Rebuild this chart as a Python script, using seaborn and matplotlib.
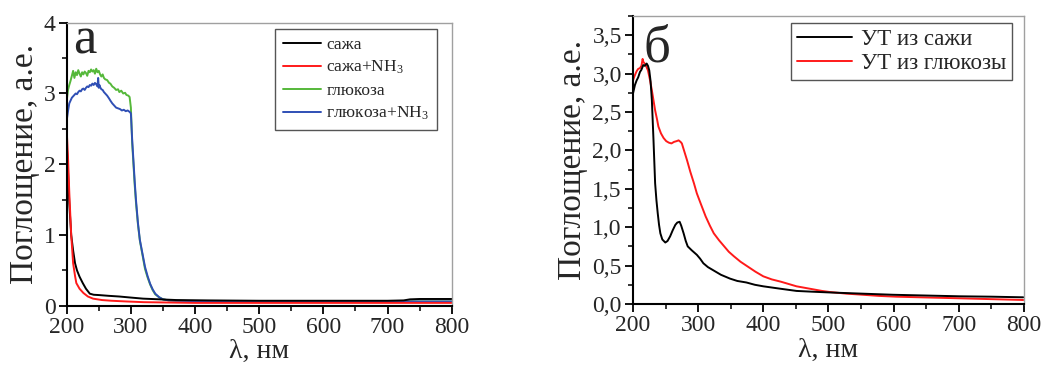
import numpy as np
import pandas as pd
import seaborn as sns
import matplotlib
matplotlib.use("Agg")
import matplotlib.pyplot as plt
from matplotlib.ticker import MultipleLocator, FixedLocator, FuncFormatter

# ---------------- data: panel a ----------------
wl_soot = [200, 202, 204, 207, 210, 213, 216, 220, 225, 230, 236, 242, 251, 265, 282, 300, 319, 345, 371, 420, 500,
           600, 700, 725, 735, 750, 780, 800]
soot = [2.30, 1.90, 1.45, 1.00, 0.78, 0.60, 0.50, 0.41, 0.32, 0.24, 0.17, 0.155, 0.15, 0.14, 0.13, 0.115, 0.10, 0.09,
        0.08, 0.075, 0.07, 0.07, 0.07, 0.075, 0.09, 0.095, 0.095, 0.095]

wl_soot_nh3 = [200, 202, 204, 207, 210, 213, 215, 220, 226, 233, 241, 255, 270, 293, 320, 360, 400, 500, 600, 700, 800]
soot_nh3 = [2.48, 2.10, 1.60, 1.00, 0.60, 0.42, 0.32, 0.24, 0.18, 0.13, 0.10, 0.08, 0.07, 0.06, 0.05, 0.045, 0.04,
            0.04, 0.04, 0.04, 0.04]

wl_gluc = [200, 202, 204, 206, 208, 210, 212, 214, 216, 218, 220, 222, 224, 226, 228, 230, 232, 234, 236, 238, 240,
           242, 244, 246, 248, 250, 252, 254, 256, 258, 260, 263, 266, 268, 271, 274, 277, 280, 282, 285, 288, 291,
           293, 296, 298, 300, 302, 304, 306, 308, 311, 314, 318, 322, 326, 330, 334, 338, 344, 350, 359, 370, 400,
           450, 500, 600, 700, 800]
gluc = [2.90, 3.05, 3.12, 3.18, 3.25, 3.32, 3.22, 3.30, 3.26, 3.33, 3.28, 3.24, 3.30, 3.27, 3.31, 3.29, 3.25, 3.32,
        3.30, 3.34, 3.31, 3.33, 3.28, 3.35, 3.30, 3.32, 3.27, 3.24, 3.27, 3.22, 3.20, 3.19, 3.15, 3.14, 3.10, 3.08,
        3.05, 3.06, 3.02, 3.04, 3.00, 3.01, 2.98, 2.97, 2.95, 2.80, 2.30, 2.00, 1.70, 1.45, 1.15, 0.92, 0.72, 0.52,
        0.40, 0.30, 0.22, 0.16, 0.12, 0.09, 0.075, 0.07, 0.065, 0.06, 0.06, 0.06, 0.06, 0.06]

wl_gluc_nh3 = [200, 202, 204, 206, 208, 210, 212, 214, 216, 218, 220, 222, 224, 226, 228, 230, 232, 234, 236, 238,
               240, 242, 244, 246, 248, 249, 250, 251, 252, 254, 256, 258, 260, 263, 266, 268, 271, 274, 277, 280,
               283, 286, 289, 292, 295, 298, 300, 302, 304, 306, 308, 311, 314, 318, 322, 326, 330, 334, 338, 344,
               350, 359, 370, 400, 450, 500, 600, 700, 800]
gluc_nh3 = [2.62, 2.75, 2.86, 2.90, 2.94, 2.96, 2.98, 3.00, 2.99, 3.02, 3.04, 3.03, 3.06, 3.07, 3.05, 3.08, 3.10,
            3.09, 3.12, 3.11, 3.14, 3.12, 3.15, 3.13, 3.10, 3.22, 3.08, 3.12, 3.09, 3.06, 3.05, 3.02, 3.00, 2.97,
            2.93, 2.90, 2.86, 2.83, 2.80, 2.79, 2.78, 2.76, 2.77, 2.75, 2.76, 2.74, 2.72, 2.35, 2.05, 1.75, 1.49,
            1.17, 0.93, 0.74, 0.55, 0.42, 0.31, 0.23, 0.17, 0.12, 0.09, 0.075, 0.07, 0.065, 0.06, 0.06, 0.06, 0.06,
            0.06]

labels_a = ["сажа", "сажа+NH$_3$", "глюкоза", "глюкоза+NH$_3$"]
colors_a = ["#000000", "#ff1a1a", "#55b83a", "#2f4fb5"]

# ---------------- data: panel б ----------------
wl_ut_soot = [200, 203, 205.6, 208, 210.7, 213, 215.8, 218, 221, 223, 225, 227, 229, 231.5, 234, 236, 238, 240, 242,
              245, 249.6, 253, 257, 261, 265, 268, 271.6, 274, 277.7, 281, 284, 290, 298, 303, 308, 315, 323, 335,
              349, 360, 374, 387, 400, 425, 451, 475, 502, 550, 599, 650, 701.5, 750, 799]
ut_soot = [2.74, 2.85, 2.91, 2.95, 3.02, 3.05, 3.11, 3.10, 3.13, 3.10, 3.04, 2.90, 2.65, 2.13, 1.57, 1.35, 1.18,
           1.03, 0.92, 0.84, 0.80, 0.82, 0.88, 0.96, 1.03, 1.06, 1.07, 1.02, 0.92, 0.82, 0.75, 0.70, 0.64, 0.59,
           0.53, 0.48, 0.44, 0.38, 0.33, 0.30, 0.28, 0.25, 0.23, 0.20, 0.17, 0.16, 0.15, 0.135, 0.12, 0.11, 0.10,
           0.095, 0.087]

wl_ut_gluc = [200, 203, 205.6, 208, 210.7, 213, 214.8, 216, 218, 220, 223, 226, 229, 231.5, 234, 237, 239, 243, 247,
              251, 255, 259, 263, 267, 270, 273, 275, 279, 283, 288, 293.6, 298, 303.8, 311.5, 318, 324, 332, 340,
              347, 355, 365, 375.6, 388, 400, 413, 427, 439, 451, 464, 477, 490, 502, 527, 553, 578, 604, 650, 701.5,
              750, 799]
ut_gluc = [2.91, 2.98, 3.03, 3.06, 3.07, 3.10, 3.19, 3.15, 3.13, 3.10, 3.04, 2.92, 2.78, 2.65, 2.52, 2.40, 2.31,
           2.22, 2.16, 2.12, 2.10, 2.09, 2.11, 2.12, 2.13, 2.11, 2.09, 1.98, 1.87, 1.72, 1.57, 1.44, 1.31, 1.14,
           1.02, 0.92, 0.83, 0.75, 0.68, 0.62, 0.55, 0.49, 0.42, 0.36, 0.32, 0.29, 0.26, 0.23, 0.21, 0.19, 0.17,
           0.156, 0.135, 0.12, 0.105, 0.095, 0.085, 0.074, 0.063, 0.052]

labels_b = ["УТ из сажи", "УТ из глюкозы"]
colors_b = ["#000000", "#ff1a1a"]

x_ticks = [200, 300, 400, 500, 600, 700, 800]
y_ticks_a = [0, 1, 2, 3, 4]
y_ticks_b = [0.0, 0.5, 1.0, 1.5, 2.0, 2.5, 3.0, 3.5]

# ---------------- build tables ----------------
df_a = pd.concat([
    pd.DataFrame({"wl": w, "A": v, "s": lab})
    for w, v, lab in zip([wl_soot, wl_soot_nh3, wl_gluc, wl_gluc_nh3],
                         [soot, soot_nh3, gluc, gluc_nh3], labels_a)
], ignore_index=True)
df_b = pd.concat([
    pd.DataFrame({"wl": w, "A": v, "s": lab})
    for w, v, lab in zip([wl_ut_soot, wl_ut_gluc], [ut_soot, ut_gluc], labels_b)
], ignore_index=True)

# ---------------- style ----------------
sns.set_style("ticks")
plt.rcParams["font.family"] = "serif"
plt.rcParams["font.serif"] = ["Liberation Serif", "DejaVu Serif"]
plt.rcParams["mathtext.fontset"] = "custom"
plt.rcParams["mathtext.rm"] = "Liberation Serif"
plt.rcParams["mathtext.it"] = "Liberation Serif:italic"
plt.rcParams["mathtext.bf"] = "Liberation Serif:bold"

fig = plt.figure(figsize=(10.44, 3.67), dpi=100)
ax1 = fig.add_axes([0.0639, 0.167, 0.3688, 0.771])
ax2 = fig.add_axes([0.6063, 0.1717, 0.3745, 0.785])

order_a = [2, 3, 0, 1]
for i in order_a:
    sub = df_a[df_a["s"] == labels_a[i]]
    sns.lineplot(data=sub, x="wl", y="A", ax=ax1, color=colors_a[i], lw=1.4,
                 label=labels_a[i], estimator=None, sort=False)
for i in [1, 0]:
    sub = df_b[df_b["s"] == labels_b[i]]
    sns.lineplot(data=sub, x="wl", y="A", ax=ax2, color=colors_b[i], lw=1.4,
                 label=labels_b[i], estimator=None, sort=False)


def style_axes(ax, yt, ylim, yminor, fmt):
    ax.set_xlim(200, 800)
    ax.set_ylim(*ylim)
    ax.xaxis.set_major_locator(FixedLocator(x_ticks))
    ax.xaxis.set_minor_locator(MultipleLocator(50))
    ax.yaxis.set_major_locator(FixedLocator(yt))
    ax.yaxis.set_minor_locator(MultipleLocator(yminor))
    ax.yaxis.set_major_formatter(FuncFormatter(fmt))
    ax.tick_params(which="major", direction="out", length=6, width=1.3, labelsize=17, pad=2, color="black")
    ax.tick_params(which="minor", direction="out", length=3.5, width=1.1, color="black")
    for s in ["left", "bottom"]:
        ax.spines[s].set_color("black")
        ax.spines[s].set_linewidth(1.5)
    for s in ["top", "right"]:
        ax.spines[s].set_color("#a0a0a0")
        ax.spines[s].set_linewidth(1.0)
    ax.set_xlabel("λ, нм", fontsize=20, labelpad=1)
    ax.set_ylabel("Поглощение, а.е.", fontsize=24, labelpad=3)


style_axes(ax1, y_ticks_a, (0, 4), 0.5, lambda v, p: f"{v:.0f}")
style_axes(ax2, y_ticks_b, (0, 3.75), 0.25, lambda v, p: f"{v:.1f}".replace(".", ","))

ax1.text(0.016, 0.893, "а", transform=ax1.transAxes, fontsize=38, ha="left", va="baseline")
ax2.text(0.026, 0.840, "б", transform=ax2.transAxes, fontsize=38, ha="left", va="baseline")

h, l = ax1.get_legend_handles_labels()
hmap = dict(zip(l, h))
leg1 = ax1.legend([hmap[k] for k in labels_a], labels_a, loc="upper right", bbox_to_anchor=(0.962, 0.978),
                  fontsize=12.5, frameon=True, fancybox=False, framealpha=1, edgecolor="#555555",
                  handlelength=2.2, handletextpad=0.3, borderpad=0.45, labelspacing=0.35, borderaxespad=0)
leg1.get_frame().set_linewidth(1.0)
h, l = ax2.get_legend_handles_labels()
hmap = dict(zip(l, h))
leg2 = ax2.legend([hmap[k] for k in labels_b], labels_b, loc="upper right", bbox_to_anchor=(0.969, 0.976),
                  fontsize=16.5, frameon=True, fancybox=False, framealpha=1, edgecolor="#555555",
                  handlelength=2.4, handletextpad=0.4, borderpad=0.25, labelspacing=0.15, borderaxespad=0)
leg2.get_frame().set_linewidth(1.0)

fig.savefig("out.png", dpi=100)
